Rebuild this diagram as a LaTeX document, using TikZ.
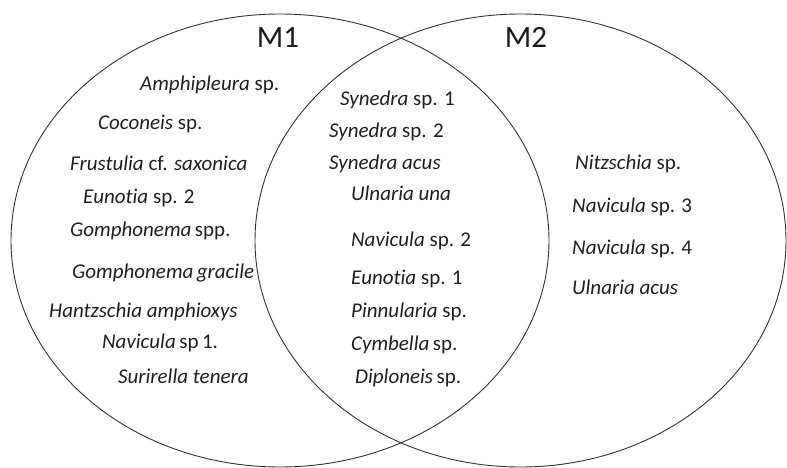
\documentclass[tikz,border=0pt]{standalone}
\usepackage{fontspec}
\setmainfont{Carlito}[Ligatures=NoCommon]
\usetikzlibrary{positioning, shapes.geometric}
\tikzset{%
	set/.style={draw=black!80, ellipse, line width=0.9pt, inner sep=0mm, outer sep=0mm},
	setlabel/.style={anchor=base, inner sep=0mm, text=black!90, font=\fontsize{31}{36}\selectfont},
	taxon/.style={anchor=base west, inner sep=0mm, text=black!88, font=\fontsize{21}{26}\selectfont}
}

\begin{document}
\begin{tikzpicture}[x=1pt, y=-1pt]
	\useasboundingbox (0,0) rectangle (787,468);
	%sets
	\node [set, minimum width=538pt, minimum height=453pt] (S1) at (280,240.5) {};
	\node [set, minimum width=531pt, minimum height=453pt] (S2) at (520.5,240.5) {};
	\node [setlabel] (M1) at (278,48) {M1};
	\node [setlabel] (M2) at (526,48) {M2};

	%only M1
	\node [taxon] (L1) at (140,91)  {\textit{Amphipleura} sp.};
	\node [taxon] (L2) at (98,130)  {\textit{Coconeis} sp.};
	\node [taxon] (L3) at (70,170)  {\textit{Frustulia} cf. \textit{saxonica}};
	\node [taxon] (L4) at (83,203)  {\textit{Eunotia} sp. 2};
	\node [taxon] (L5) at (70,236)  {\textit{Gomphonema}\,spp.};
	\node [taxon] (L6) at (72,278)  {\textit{Gomphonema\,gracile}};
	\node [taxon] (L7) at (49,317)  {\textit{Hantzschia amphioxys}};
	\node [taxon] (L8) at (102,348) {\textit{Navicula}\,sp\,1.};
	\node [taxon] (L9) at (118,383) {\textit{Surirella tenera}};

	%both
	\node [taxon] (C1) at (340,106) {\textit{Synedra} sp. 1};
	\node [taxon] (C2) at (329,138) {\textit{Synedra} sp. 2};
	\node [taxon] (C3) at (329,169) {\textit{Synedra acus}};
	\node [taxon] (C4) at (351,200) {\textit{Ulnaria una}};
	\node [taxon] (C5) at (351,246) {\textit{Navicula} sp. 2};
	\node [taxon] (C6) at (351,284) {\textit{Eunotia} sp. 1};
	\node [taxon] (C7) at (351,317) {\textit{Pinnularia} sp.};
	\node [taxon] (C8) at (351,350) {\textit{Cymbella}\,sp.};
	\node [taxon] (C9) at (355,383) {\textit{Diploneis}\,sp.};

	%only M2
	\node [taxon] (R1) at (575,169) {\textit{Nitzschia} sp.};
	\node [taxon] (R2) at (572,212) {\textit{Navicula} sp. 3};
	\node [taxon] (R3) at (572,254) {\textit{Navicula} sp. 4};
	\node [taxon] (R4) at (572,294) {\textit{Ulnaria acus}};
\end{tikzpicture}
\end{document}
